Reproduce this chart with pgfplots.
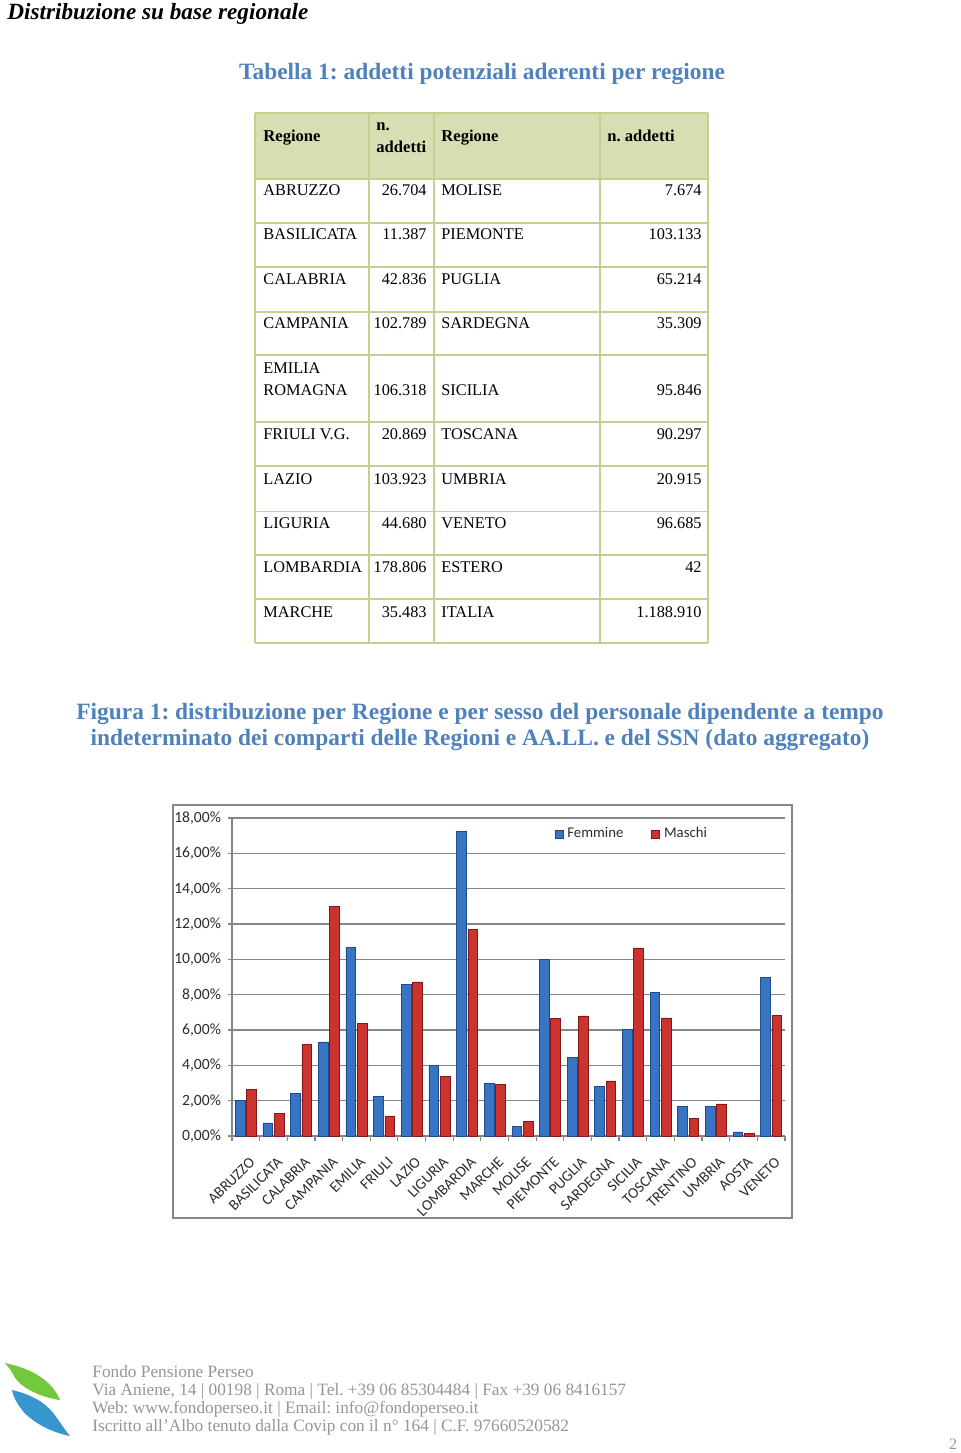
\documentclass[border=0pt]{standalone}
\usepackage{pgfplots}
\pgfplotsset{compat=1.18}
\usepackage{pgfplotstable}
\usepackage{fontspec}
\setmainfont{Liberation Serif}
\newfontfamily\calfont{Carlito}
\frenchspacing

\definecolor{capblue}{RGB}{79,129,189}
\definecolor{hdrfill}{RGB}{216,222,178}
\definecolor{tblborder}{RGB}{198,207,142}
\definecolor{footgray}{RGB}{150,150,150}
\definecolor{gridgray}{RGB}{134,134,134}
\definecolor{labgray}{RGB}{45,45,45}
\definecolor{fbd}{RGB}{30,75,140}
\definecolor{fbl}{RGB}{56,116,196}
\definecolor{mrd}{RGB}{130,25,25}
\definecolor{mrl}{RGB}{204,50,46}
\definecolor{logogreen}{RGB}{115,200,60}
\definecolor{logoblue}{RGB}{55,150,205}

\pgfplotstableread{
idx F M
0 2.00 2.65
1 0.74 1.26
2 2.42 5.18
3 5.33 12.98
4 10.66 6.38
5 2.22 1.14
6 8.56 8.72
7 3.98 3.37
8 17.24 11.69
9 2.97 2.92
10 0.53 0.81
11 9.98 6.65
12 4.43 6.80
13 2.82 3.12
14 6.04 10.65
15 8.13 6.69
16 1.69 0.98
17 1.69 1.82
18 0.23 0.13
19 8.96 6.82
}\datatable

\begin{document}
\begin{tikzpicture}
\begin{scope}[x=0.5pt,y=-0.5pt]
\fill[white] (0,0) rectangle (960,1453);
% page title
\node[anchor=base west, inner sep=0, font=\bfseries\itshape\fontsize{11.6}{13}\selectfont] at (7,19) {Distribuzione su base regionale};
% table caption
\node[anchor=base, inner sep=0, text=capblue, font=\bfseries\fontsize{11.7}{13}\selectfont] at (482,79) {Tabella 1: addetti potenziali aderenti per regione};
% table
\fill[hdrfill] (255,113) rectangle (708,179);
\foreach \y in {113,179,223,267,312,355,422,466,511.5,555,599,643}
  \draw[tblborder, line width=0.8pt] (255,\y) -- (708,\y);
\foreach \x in {255,369,434,600,708}
  \draw[tblborder, line width=0.8pt] (\x,113) -- (\x,643);
\begin{scope}[every node/.style={inner sep=0, font=\fontsize{8.15}{10}\selectfont}]
\node[anchor=base west, font=\bfseries\fontsize{8.3}{10}\selectfont] at (263,141) {Regione};
\node[anchor=base west, font=\bfseries\fontsize{8.3}{10}\selectfont] at (376,130) {n.};
\node[anchor=base west, font=\bfseries\fontsize{8.3}{10}\selectfont] at (376,152) {addetti};
\node[anchor=base west, font=\bfseries\fontsize{8.3}{10}\selectfont] at (441,141) {Regione};
\node[anchor=base west, font=\bfseries\fontsize{8.3}{10}\selectfont] at (607,141) {n. addetti};
\foreach \yy/\a/\b/\c/\d in {195/ABRUZZO/26.704/MOLISE/7.674,
  239/BASILICATA/11.387/PIEMONTE/103.133,
  284/CALABRIA/42.836/PUGLIA/65.214,
  328/CAMPANIA/102.789/SARDEGNA/35.309,
  395/ROMAGNA/106.318/SICILIA/95.846,
  439/FRIULI V.G./20.869/TOSCANA/90.297,
  484/LAZIO/103.923/UMBRIA/20.915,
  528/LIGURIA/44.680/VENETO/96.685,
  572/LOMBARDIA/178.806/ESTERO/42,
  617/MARCHE/35.483/ITALIA/1.188.910}{
  \node[anchor=base west] at (263,\yy) {\a};
  \node[anchor=base east] at (427,\yy) {\b};
  \node[anchor=base west] at (441,\yy) {\c};
  \node[anchor=base east] at (702,\yy) {\d};
}
\node[anchor=base west] at (263,373) {EMILIA};
\end{scope}
% figure caption
\node[anchor=base, inner sep=0, text=capblue, font=\bfseries\fontsize{11.7}{13}\selectfont] at (480,719) {Figura 1: distribuzione per Regione e per sesso del personale dipendente a tempo};
\node[anchor=base, inner sep=0, text=capblue, font=\bfseries\fontsize{11.7}{13}\selectfont] at (480,745) {indeterminato dei comparti delle Regioni e AA.LL. e del SSN (dato aggregato)};
% chart frame
\draw[gridgray, line width=0.7pt] (173,805) rectangle (792,1218);
\coordinate (O) at (232,1136);
% footer
\fill[logogreen] (5,1363) .. controls (30,1368) and (52,1380) .. (60,1400) .. controls (45,1398) and (22,1390) .. (14,1376) .. controls (12,1371) and (8,1367) .. (5,1363) -- cycle;
\fill[logoblue] (12,1390) .. controls (30,1394) and (45,1402) .. (54,1414) .. controls (60,1422) and (65,1430) .. (70,1436) .. controls (50,1432) and (32,1422) .. (22,1410) .. controls (16,1402) and (13,1396) .. (12,1390) -- cycle;
\begin{scope}[every node/.style={inner sep=0, anchor=base west, text=footgray, font=\fontsize{8.65}{10}\selectfont}]
\node at (92,1377) {Fondo Pensione Perseo};
\node at (92,1395) {Via Aniene, 14 | 00198 | Roma | Tel. +39 06 85304484 | Fax +39 06 8416157};
\node at (92,1413) {Web: www.fondoperseo.it | Email: info@fondoperseo.it};
\node at (92,1431) {Iscritto all'Albo tenuto dalla Covip con il n° 164 | C.F. 97660520582};
\end{scope}
\node[anchor=base, inner sep=0, text=footgray, font=\fontsize{8}{10}\selectfont] at (953,1449) {2};
\end{scope}

\begin{axis}[
  at={(O)}, anchor=south west,
  width=276.5pt, height=159pt, scale only axis,
  xmin=-0.5, xmax=19.5, ymin=0, ymax=18,
  ybar=0.8pt, bar width=0.35,
  axis lines*=left,
  axis line style={gridgray, line width=0.6pt},
  ymajorgrids, grid style={gridgray, line width=0.6pt},
  tick align=outside, major tick length=2pt, minor tick length=2.5pt,
  tick style={gridgray, line width=0.6pt},
  ytick={0,2,...,18},
  yticklabels={{0,00\%},{2,00\%},{4,00\%},{6,00\%},{8,00\%},{10,00\%},{12,00\%},{14,00\%},{16,00\%},{18,00\%}},
  yticklabel style={font=\calfont\fontsize{7.8}{9}\selectfont, text=labgray, xshift=0pt},
  xtick={0,...,19},
  xticklabels={ABRUZZO,BASILICATA,CALABRIA,CAMPANIA,EMILIA,FRIULI,LAZIO,LIGURIA,LOMBARDIA,MARCHE,MOLISE,PIEMONTE,PUGLIA,SARDEGNA,SICILIA,TOSCANA,TRENTINO,UMBRIA,AOSTA,VENETO},
  major x tick style={draw=none},
  minor xtick={-0.5,0.5,...,19.5},
  xticklabel style={font=\calfont\fontsize{7.6}{9}\selectfont, text=labgray, rotate=45, anchor=north east, inner sep=0pt, xshift=-4.5pt, yshift=-6.5pt},
  legend style={at={(0.572,0.95)}, anchor=west, draw=none, fill=none, legend columns=2,
    font=\calfont\fontsize{7.4}{9}\selectfont, text=labgray,
    /tikz/every even column/.append style={column sep=12pt}},
  legend image code/.code={\path[#1, line width=0.3pt] (0pt,-2pt) rectangle (4pt,2pt);},
]
\addplot[draw=fbd, line width=0.3pt, fill=fbl] table[x=idx,y=F]{\datatable};
\addplot[draw=mrd, line width=0.3pt, fill=mrl] table[x=idx,y=M]{\datatable};
\legend{Femmine,Maschi}
\end{axis}
\end{tikzpicture}
\end{document}
